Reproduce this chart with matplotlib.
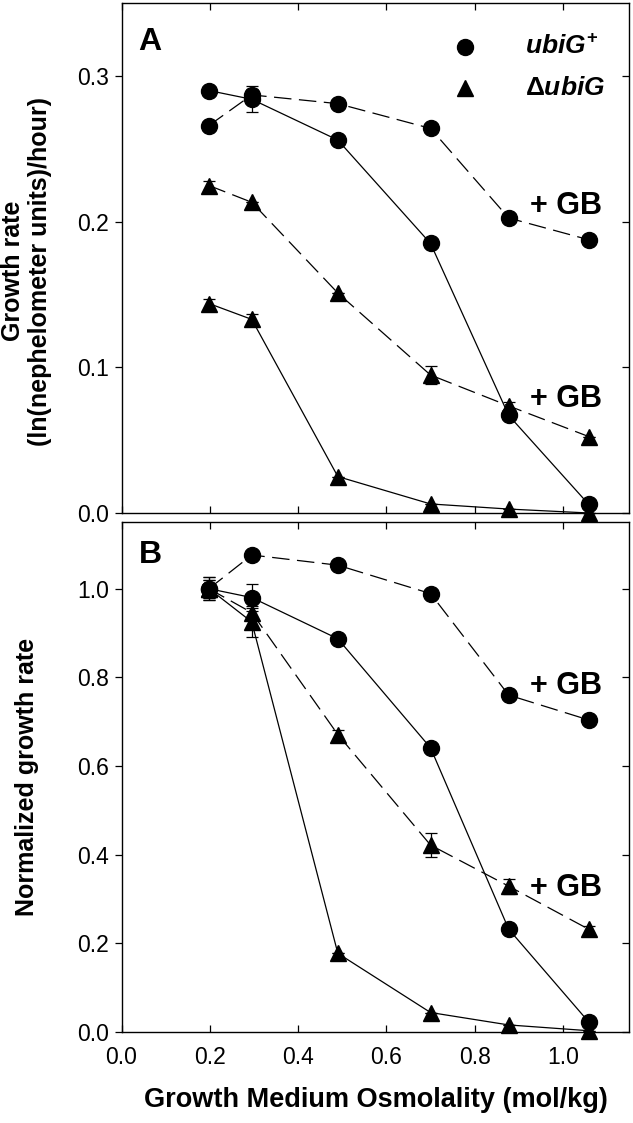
import matplotlib
matplotlib.use("Agg")
import matplotlib.pyplot as plt

plt.rcParams['font.family'] = ['Liberation Sans', 'DejaVu Sans']
plt.rcParams['mathtext.fontset'] = 'custom'
plt.rcParams['mathtext.it'] = 'Liberation Sans:italic:bold'
plt.rcParams['mathtext.rm'] = 'Liberation Sans:bold'
plt.rcParams['mathtext.bf'] = 'Liberation Sans:bold'

# osmolality (mol/kg)
osm = [0.198, 0.295, 0.49, 0.70, 0.877, 1.058]

# panel A: growth rate
a_wt = [0.290, 0.284, 0.256, 0.185, 0.067, 0.006]
a_wt_err = [0.0, 0.009, 0.0, 0.0, 0.0, 0.0]
a_wt_gb = [0.266, 0.287, 0.281, 0.264, 0.2025, 0.1876]
a_wt_gb_err = [0.0, 0.004, 0.0, 0.0, 0.0, 0.0]
a_mut = [0.1438, 0.1329, 0.025, 0.0062, 0.0027, 0.0]
a_mut_err = [0.003, 0.004, 0.0, 0.0, 0.0, 0.0]
a_mut_gb = [0.2248, 0.2133, 0.151, 0.0947, 0.0735, 0.0525]
a_mut_gb_err = [0.003, 0.0, 0.0, 0.006, 0.003, 0.0]

# panel B: normalized growth rate
b_wt = [1.0, 0.980, 0.887, 0.641, 0.232, 0.023]
b_wt_err = [0.026, 0.03, 0.0, 0.0, 0.0, 0.0]
b_wt_gb = [1.0, 1.076, 1.053, 0.989, 0.760, 0.704]
b_wt_gb_err = [0.026, 0.0, 0.0, 0.0, 0.0, 0.0]
b_mut = [1.0, 0.925, 0.1775, 0.044, 0.016, 0.003]
b_mut_err = [0.02, 0.035, 0.0, 0.0, 0.0, 0.0]
b_mut_gb = [1.0, 0.946, 0.671, 0.4217, 0.329, 0.232]
b_mut_gb_err = [0.02, 0.01, 0.01, 0.028, 0.017, 0.008]

fig = plt.figure(figsize=(6.33, 11.23), dpi=100)
ax1 = fig.add_axes([0.192, 0.5432, 0.802, 0.454])
ax2 = fig.add_axes([0.192, 0.081, 0.802, 0.454])

DASH = (14, 6)


def series(ax, y, err, marker, dashed):
    ms = 11.5 if marker == 'o' else 11
    if dashed:
        ax.plot(osm, y, color='black', lw=0.9, dashes=DASH, zorder=2)
    else:
        ax.plot(osm, y, color='black', lw=0.9, ls='-', zorder=2)
    ax.errorbar(osm, y, yerr=err, fmt='none', ecolor='black', capsize=4,
                elinewidth=0.9, capthick=0.9, clip_on=False, zorder=3)
    ax.plot(osm, y, marker, color='black', ms=ms, ls='none', clip_on=False, zorder=4)


def style(ax, ymax, yticks):
    ax.set_xlim(0, 1.15)
    ax.set_ylim(0, ymax)
    ax.set_xticks([0.0, 0.2, 0.4, 0.6, 0.8, 1.0])
    ax.set_yticks(yticks)
    ax.tick_params(axis='x', direction='in', top=True, length=5, width=0.9,
                   labelsize=16.5, pad=10)
    ax.tick_params(axis='y', direction='out', right=True, length=5, width=0.9,
                   labelsize=16.5, pad=4)
    for t in ax.yaxis.get_ticklines()[1::2]:
        t.set_marker(0)  # right-side ticks point inward
    for s in ax.spines.values():
        s.set_linewidth(1.0)


for ax, data in [(ax1, (a_wt, a_wt_err, a_wt_gb, a_wt_gb_err, a_mut, a_mut_err, a_mut_gb, a_mut_gb_err)),
                 (ax2, (b_wt, b_wt_err, b_wt_gb, b_wt_gb_err, b_mut, b_mut_err, b_mut_gb, b_mut_gb_err))]:
    series(ax, data[0], data[1], 'o', False)
    series(ax, data[2], data[3], 'o', True)
    series(ax, data[4], data[5], '^', False)
    series(ax, data[6], data[7], '^', True)

style(ax1, 0.35, [0.0, 0.1, 0.2, 0.3])
ax1.set_yticklabels(['0.0', '0.1', '0.2', '0.3'])
ax1.tick_params(labelbottom=False)
style(ax2, 1.15, [0.0, 0.2, 0.4, 0.6, 0.8, 1.0])
ax2.set_xticklabels(['0.0', '0.2', '0.4', '0.6', '0.8', '1.0'])
ax2.set_yticklabels(['0.0', '0.2', '0.4', '0.6', '0.8', '1.0'])

# panel letters
ax1.text(0.056, 0.923, 'A', transform=ax1.transAxes, fontsize=23, fontweight='bold',
         ha='center', va='center')
ax2.text(0.056, 0.936, 'B', transform=ax2.transAxes, fontsize=23, fontweight='bold',
         ha='center', va='center')

# legend
ax1.plot([0.778], [0.320], 'o', color='black', ms=11.5, clip_on=False)
ax1.plot([0.778], [0.292], '^', color='black', ms=11, clip_on=False)
ax1.text(0.915, 0.320, r'$ubiG^{+}$', fontsize=19, ha='left', va='center')
ax1.text(0.915, 0.292, r'$\Delta ubiG$', fontsize=19, ha='left', va='center')

# + GB labels
ax1.text(0.925, 0.2105, '+ GB', fontsize=22, fontweight='bold', ha='left', va='center')
ax1.text(0.925, 0.078, '+ GB', fontsize=22, fontweight='bold', ha='left', va='center')
ax2.text(0.925, 0.781, '+ GB', fontsize=22, fontweight='bold', ha='left', va='center')
ax2.text(0.925, 0.324, '+ GB', fontsize=22, fontweight='bold', ha='left', va='center')

# axis labels
fig.text(0.042, 0.7585, 'Growth rate\n(ln(nephelometer units)/hour)', rotation=90,
         fontsize=18, fontweight='bold', ha='center', va='center', linespacing=1.15)
fig.text(0.042, 0.308, 'Normalized growth rate', rotation=90,
         fontsize=18, fontweight='bold', ha='center', va='center')
fig.text(0.594, 0.0205, 'Growth Medium Osmolality (mol/kg)',
         fontsize=19.5, fontweight='bold', ha='center', va='center')

fig.savefig('out.png', dpi=100)
